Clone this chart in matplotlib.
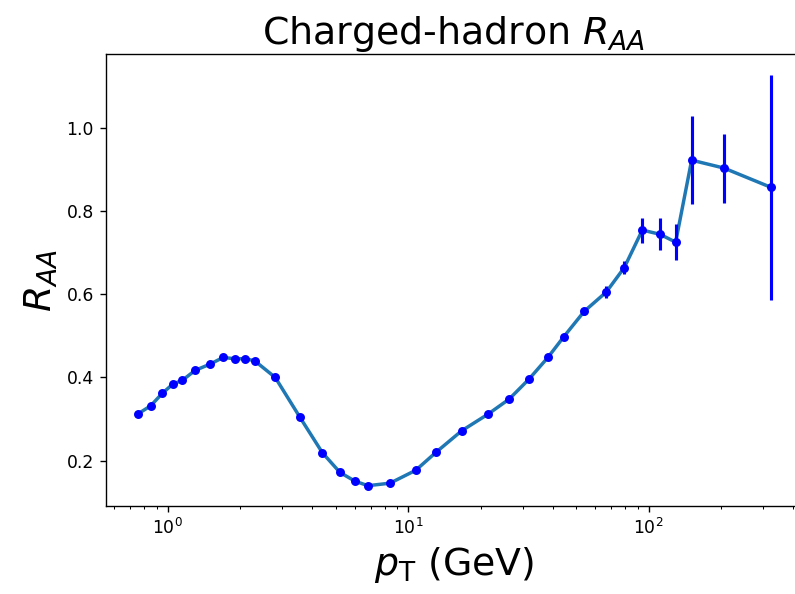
import matplotlib
matplotlib.use("Agg")
from matplotlib import pyplot as plt
import numpy as np

# charged hadron R_AA vs pT
pt = [0.75, 0.85, 0.95, 1.05, 1.15, 1.3, 1.5, 1.7, 1.9, 2.1,
      2.3, 2.8, 3.55, 4.4, 5.2, 6.0, 6.8, 8.4, 10.75, 13.1,
      16.7, 21.5, 26.3, 31.8, 38.1, 44.4, 54.0, 66.6, 79.2, 94.1,
      111.4, 129.5, 150.9, 205.7, 321.6]
raa = [0.312, 0.332, 0.362, 0.384, 0.393, 0.417, 0.432, 0.448, 0.445, 0.445,
       0.440, 0.400, 0.304, 0.219, 0.172, 0.151, 0.140, 0.146, 0.177, 0.221,
       0.272, 0.312, 0.348, 0.396, 0.448, 0.498, 0.559, 0.605, 0.664, 0.754,
       0.744, 0.725, 0.922, 0.903, 0.857]
err = [0.003, 0.003, 0.003, 0.003, 0.003, 0.003, 0.003, 0.003, 0.003, 0.003,
       0.003, 0.003, 0.003, 0.003, 0.003, 0.003, 0.003, 0.003, 0.004, 0.004,
       0.004, 0.005, 0.005, 0.005, 0.006, 0.007, 0.009, 0.015, 0.015, 0.03,
       0.038, 0.043, 0.106, 0.083, 0.27]

fig = plt.figure(figsize=(795 / 124, 594 / 124), dpi=124)
ax = fig.add_axes([106 / 795, 88 / 594, 695.6 / 795, 451.7 / 594])

ax.plot(pt, raa, lw=2)
ax.errorbar(pt, raa, yerr=err, fmt='o', color='blue', ms=4.2, elinewidth=1.8)

ax.set_xscale('log')
ax.set_xlim(10 ** -0.2566, 10 ** 2.636)
ax.set_ylim(0.0912, 1.1763)

ax.set_title(r'Charged-hadron $R_{AA}$', fontsize=22)
ax.set_xlabel(r'$p_{\rm T}$ (GeV)', fontsize=22)
ax.set_ylabel(r'$R_{AA}$', fontsize=22)

fig.savefig("out.png", dpi=124)
